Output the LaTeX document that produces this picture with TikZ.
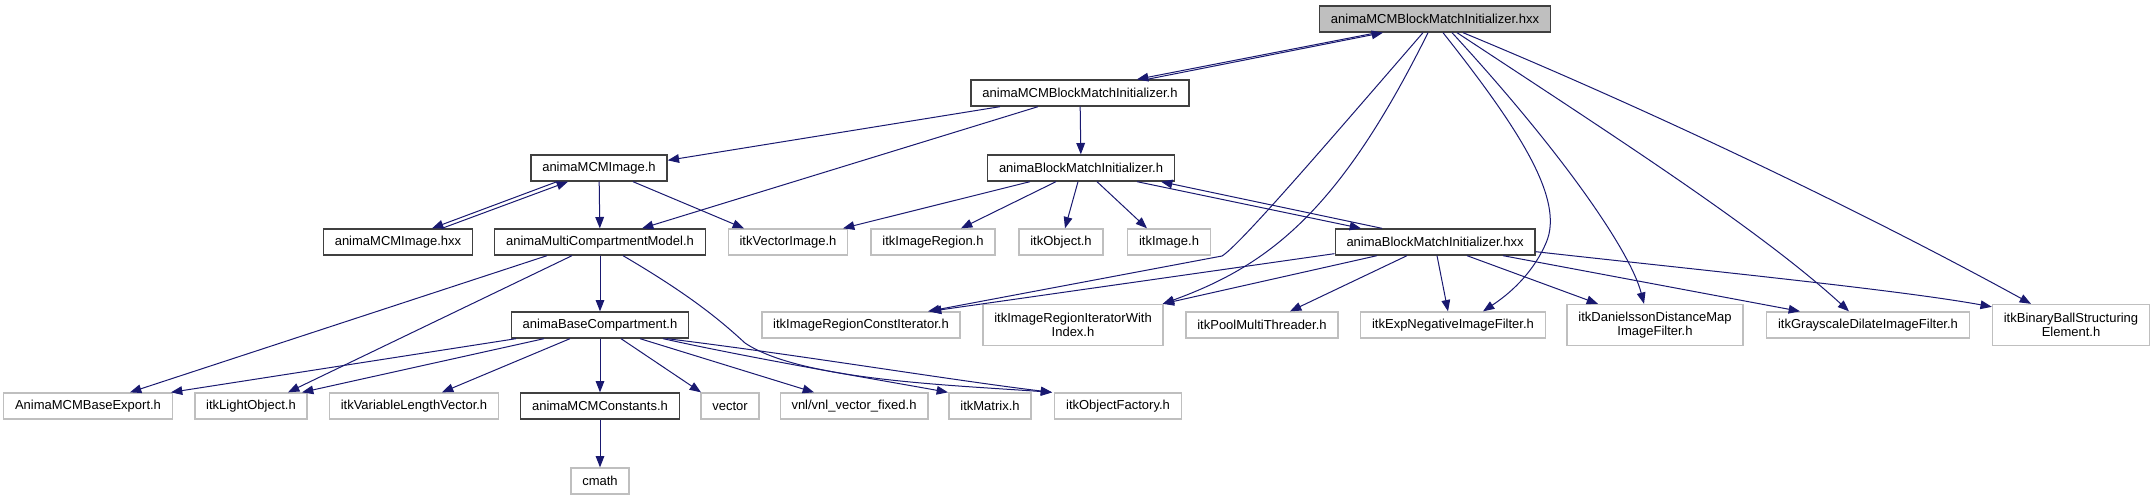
\documentclass[tikz,border=0pt]{standalone}
\usepackage{fontspec}
\setmainfont{Liberation Sans}
\usetikzlibrary{arrows.meta,calc}
\definecolor{EdgeBlue}{HTML}{191970}
\definecolor{ExtGray}{HTML}{BFBFBF}
\definecolor{DocGray}{HTML}{404040}

\begin{document}
\begin{tikzpicture}[x=0.75pt,y=-0.75pt,>={Triangle[length=8.5pt,width=6.5pt]},
 font=\fontsize{9.75}{10}\selectfont,
 doc/.style={draw=DocGray,line width=1pt,fill=white,inner xsep=8.5pt,inner ysep=0pt,minimum height=19.5pt,align=center},
 ext/.style={doc,draw=ExtGray},
 two/.style={minimum height=30.75pt},
 dep/.style={->,draw=EdgeBlue,line width=0.75pt}]
\useasboundingbox (0,0) rectangle (2156,500);
\node[doc,fill=ExtGray] (root) at (1435,19) {animaMCMBlockMatchInitializer.hxx};
\node[doc] (mbmih) at (1080,93) {animaMCMBlockMatchInitializer.h};
\node[doc] (mimg) at (599,168) {animaMCMImage.h};
\node[doc] (bmih) at (1081,168) {animaBlockMatchInitializer.h};
\node[doc] (mimgx) at (398,242) {animaMCMImage.hxx};
\node[doc] (mcm) at (600,242) {animaMultiCompartmentModel.h};
\node[ext] (vimg) at (788,242) {itkVectorImage.h};
\node[ext] (ireg) at (933,242) {itkImageRegion.h};
\node[ext] (iobj) at (1061,242) {itkObject.h};
\node[ext] (iimg) at (1169,242) {itkImage.h};
\node[doc] (bmix) at (1435,242) {animaBlockMatchInitializer.hxx};
\node[doc] (bcomp) at (600,325) {animaBaseCompartment.h};
\node[ext] (rci) at (861,325) {itkImageRegionConstIterator.h};
\node[ext,two] (riwi) at (1073,325) {itkImageRegionIteratorWith\\Index.h};
\node[ext] (pmt) at (1262,325) {itkPoolMultiThreader.h};
\node[ext] (expn) at (1453,325) {itkExpNegativeImageFilter.h};
\node[ext,two] (dan) at (1655,325) {itkDanielssonDistanceMap\\ImageFilter.h};
\node[ext] (gdil) at (1868,325) {itkGrayscaleDilateImageFilter.h};
\node[ext,two] (bbse) at (2071,325) {itkBinaryBallStructuring\\Element.h};
\node[ext] (bexp) at (88,406) {AnimaMCMBaseExport.h};
\node[ext] (lobj) at (251,406) {itkLightObject.h};
\node[ext] (vlv) at (414,406) {itkVariableLengthVector.h};
\node[doc] (mcon) at (600,406) {animaMCMConstants.h};
\node[ext] (vec) at (730,406) {vector};
\node[ext] (vnl) at (854,406) {vnl/vnl\_vector\_fixed.h};
\node[ext] (mat) at (990,406) {itkMatrix.h};
\node[ext] (ofac) at (1118,406) {itkObjectFactory.h};
\node[ext] (cmath) at (600,481) {cmath};
\draw[dep] ($(root.south)+(-58,0)$) -- ($(mbmih.north)+(57,0)$);
\draw[dep] ($(mbmih.north)+(67,0)$) -- ($(root.south)+(-52,0)$);
\draw[dep] ($(mbmih.south)+(-80,0)$) -- ($(mimg.north east)+(0,6)$);
\draw[dep] ($(mbmih.south)+(-42,0)$) -- ($(mcm.north)+(42,0)$);
\draw[dep] (mbmih) -- (bmih);
\draw[dep] ($(mimg.south)+(-42,0)$) -- ($(mimgx.north)+(34,0)$);
\draw[dep] ($(mimgx.north)+(44,0)$) -- ($(mimg.south)+(-31,0)$);
\draw[dep] (mimg) -- (mcm);
\draw[dep] ($(mimg.south)+(34,0)$) -- ($(vimg.north)+(-44,0)$);
\draw[dep] ($(bmih.south)+(-51,0)$) -- ($(vimg.north)+(55,0)$);
\draw[dep] ($(bmih.south)+(-25,0)$) -- ($(ireg.north)+(28,0)$);
\draw[dep] ($(bmih.south)+(-3,0)$) -- ($(iobj.north)+(4,0)$);
\draw[dep] ($(bmih.south)+(16,0)$) -- ($(iimg.north)+(-22,0)$);
\draw[dep] ($(bmih.south)+(56,0)$) -- ($(bmix.north)+(-74,0)$);
\draw[dep] ($(bmix.north)+(-53,0)$) -- ($(bmih.south)+(80,0)$);
\draw[dep] ($(root.south)+(-12,0)$) .. controls (1330,140) and (1240,245) .. (1222,256) -- ($(rci.north)+(67,0)$);
\draw[dep] ($(root.south)+(-7,0)$) .. controls (1340,210) and (1270,265) .. ($(riwi.north east)+(-1,0)$);
\draw[dep] ($(root.south)+(8,0)$) .. controls (1520,130) and (1565,200) .. (1546,243) .. controls (1530,280) and (1500,300) .. ($(expn.north)+(30,0)$);
\draw[dep] ($(root.south)+(17,0)$) .. controls (1560,150) and (1630,250) .. ($(dan.north)+(-11,0)$);
\draw[dep] ($(root.south)+(22,0)$) .. controls (1620,140) and (1760,230) .. ($(gdil.north)+(-19,0)$);
\draw[dep] ($(root.south)+(28,0)$) .. controls (1650,110) and (1860,210) .. ($(bbse.north)+(-40,0)$);
\draw[dep] ($(bmix.south west)+(0,-2)$) -- ($(rci.north)+(69,0)$);
\draw[dep] ($(bmix.south)+(-58,0)$) -- ($(riwi.north east)+(-1,0)$);
\draw[dep] ($(bmix.south)+(-28,0)$) -- ($(pmt.north)+(28,0)$);
\draw[dep] ($(bmix.south)+(2,0)$) -- ($(expn.north)+(-5,0)$);
\draw[dep] ($(bmix.south)+(32,0)$) -- ($(dan.north)+(-57,0)$);
\draw[dep] ($(bmix.south)+(68,0)$) -- ($(gdil.north)+(-68,0)$);
\draw[dep] ($(bmix.south east)+(0,-4)$) .. controls (1700,270) and (1900,290) .. ($(bbse.north west)+(0,3)$);
\draw[dep] ($(mcm.south)+(-53,0)$) -- ($(bexp.north)+(42,0)$);
\draw[dep] ($(mcm.south)+(-28,0)$) -- ($(lobj.north)+(37,0)$);
\draw[dep] (mcm) -- (bcomp);
\draw[dep] ($(mcm.south)+(23,0)$) .. controls (690,295) and (720,320) .. (745,343) .. controls (800,380) and (950,385) .. ($(ofac.north west)+(-2,0)$);
\draw[dep] ($(bcomp.south)+(-84,0)$) -- ($(bexp.north east)+(-2,0)$);
\draw[dep] ($(bcomp.south)+(-56,0)$) -- ($(lobj.north)+(51,0)$);
\draw[dep] ($(bcomp.south)+(-30,0)$) -- ($(vlv.north)+(28,0)$);
\draw[dep] (bcomp) -- (mcon);
\draw[dep] ($(bcomp.south)+(21,0)$) -- ($(vec.north)+(-29,0)$);
\draw[dep] ($(bcomp.south)+(40,0)$) -- ($(vnl.north)+(-40,0)$);
\draw[dep] ($(bcomp.south)+(63,0)$) .. controls (760,360) and (880,380) .. ($(mat.north)+(-42,0)$);
\draw[dep] ($(bcomp.south)+(67,0)$) .. controls (800,355) and (950,380) .. ($(ofac.north west)+(-2,0)$);
\draw[dep] (mcon) -- (cmath);
\end{tikzpicture}
\end{document}
